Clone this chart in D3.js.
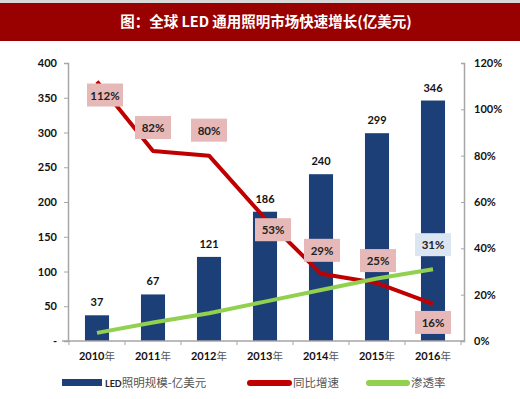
<!DOCTYPE html>
<html>
<head>
<meta charset="utf-8">
<script src="https://cdn.jsdelivr.net/npm/d3@7"></script>
<style>
  body { margin: 0; background: #fff; }
  svg { display: block; }
</style>
</head>
<body>
<div id="chart"></div>
<script>
// 数据
const years = ["2010", "2011", "2012", "2013", "2014", "2015", "2016"];
const marketSize = [37, 67, 121, 186, 240, 299, 346];
const growthRate = [112, 82, 80, 53, 29, 25, 16];
const penetration = [3.5, 8, 12, 17, 22, 27, 31];
const leftTicks = [0, 50, 100, 150, 200, 250, 300, 350, 400];
const rightTicks = [0, 20, 40, 60, 80, 100, 120];

const width = 520, height = 399;
const svg = d3.select("#chart").append("svg")
    .attr("width", width)
    .attr("height", height);

// 标题栏
svg.append("rect").attr("x", 0).attr("y", 0).attr("width", width).attr("height", 3).attr("fill", "#d9d9d9");
svg.append("rect").attr("x", 0).attr("y", 3).attr("width", width).attr("height", 38).attr("fill", "#990000");
svg.append("text")
    .attr("x", 266).attr("y", 27)
    .attr("text-anchor", "middle")
    .attr("font-family", "Noto Sans CJK SC")
    .attr("font-weight", "bold")
    .attr("font-size", 14.5)
    .attr("fill", "#fff")
    .text("图：全球 LED 通用照明市场快速增长(亿美元)");

const x = d3.scaleBand().domain(years).range([69, 461]).paddingInner(0.57).paddingOuter(0.285);
const yL = d3.scaleLinear().domain([0, 400]).range([341, 63]);
const yR = d3.scaleLinear().domain([0, 120]).range([341, 63]);
const cx = d => x(d) + x.bandwidth() / 2;

const numFont = "Lato";

// 柱子
svg.selectAll("rect.bar")
    .data(years)
    .enter()
    .append("rect")
    .attr("class", "bar")
    .attr("x", d => x(d))
    .attr("width", x.bandwidth())
    .attr("y", (d, i) => yL(marketSize[i]))
    .attr("height", (d, i) => yL(0) - yL(marketSize[i]))
    .attr("fill", "#1d3f78");

// 柱子数值
svg.selectAll("text.bar-label")
    .data(years)
    .enter()
    .append("text")
    .attr("x", d => cx(d))
    .attr("y", (d, i) => yL(marketSize[i]) - 9)
    .attr("text-anchor", "middle")
    .attr("font-family", numFont)
    .attr("font-weight", "bold")
    .attr("font-size", 11)
    .attr("fill", "#111")
    .text((d, i) => marketSize[i]);

// 左轴
const leftAxis = svg.append("g")
    .attr("transform", "translate(68,0)")
    .call(d3.axisLeft(yL).tickValues(leftTicks).tickSize(4).tickFormat(d => d === 0 ? "-" : d));
leftAxis.select(".domain").attr("stroke", "#a6a6a6").attr("stroke-width", 1.5);
leftAxis.selectAll(".tick line").attr("stroke", "#a6a6a6");
leftAxis.selectAll(".tick text")
    .attr("x", -11)
    .attr("font-family", numFont).attr("font-weight", "bold").attr("font-size", 11).attr("fill", "#111");

// 右轴
const rightAxis = svg.append("g")
    .attr("transform", "translate(464,0)")
    .call(d3.axisRight(yR).tickValues(rightTicks).tickSize(-3).tickFormat(d => d + "%"));
rightAxis.select(".domain").attr("stroke", "#a6a6a6").attr("stroke-width", 1.5);
rightAxis.selectAll(".tick line").attr("stroke", "#a6a6a6");
rightAxis.selectAll(".tick text")
    .attr("x", 10)
    .attr("font-family", numFont).attr("font-weight", "bold").attr("font-size", 11).attr("fill", "#111");

// X轴
svg.append("line")
    .attr("x1", 62).attr("x2", 464).attr("y1", 341).attr("y2", 341)
    .attr("stroke", "#a6a6a6").attr("stroke-width", 1.5);
svg.selectAll("line.xtick")
    .data(years.concat(["end"]))
    .enter()
    .append("line")
    .attr("x1", (d, i) => 69 + i * x.step())
    .attr("x2", (d, i) => 69 + i * x.step())
    .attr("y1", 341).attr("y2", 345)
    .attr("stroke", "#a6a6a6");

const xLabels = svg.selectAll("text.xlabel")
    .data(years)
    .enter()
    .append("text")
    .attr("x", d => cx(d))
    .attr("y", 360)
    .attr("text-anchor", "middle")
    .attr("font-size", 11);
xLabels.append("tspan").attr("font-family", numFont).attr("font-weight", "bold").attr("fill", "#111").text(d => d);
xLabels.append("tspan").attr("font-family", "Noto Sans CJK SC").attr("fill", "#555").attr("font-size", 10.5).text("年");

// 折线
const line = d3.line().x((d, i) => cx(years[i])).y(d => yR(d));
svg.append("path")
    .datum(growthRate)
    .attr("d", line)
    .attr("fill", "none")
    .attr("stroke", "#c00000")
    .attr("stroke-width", 4)
    .attr("stroke-linejoin", "round");

svg.append("path")
    .datum(penetration)
    .attr("d", line)
    .attr("fill", "none")
    .attr("stroke", "#92d050")
    .attr("stroke-width", 4);

// 数据标签框
function addLabel(px, py, text, fill) {
    const g = svg.append("g").attr("transform", `translate(${px},${py})`);
    g.append("rect")
        .attr("x", -18).attr("y", -12).attr("width", 36).attr("height", 23)
        .attr("fill", fill);
    g.append("text")
        .attr("text-anchor", "middle")
        .attr("y", 4)
        .attr("font-family", numFont)
        .attr("font-weight", "bold")
        .attr("font-size", 11.5)
        .attr("fill", "#222")
        .text(text);
}

const growthOffsets = [[8, 14], [0, -23], [0, -25], [8, 12], [1, -23], [1, -22], [0, 19]];
growthRate.forEach((v, i) => {
    addLabel(cx(years[i]) + growthOffsets[i][0], yR(v) + growthOffsets[i][1], v + "%", "#e6b9b8");
});
addLabel(cx(years[6]), yR(penetration[6]) - 24, penetration[6] + "%", "#dce6f2");

// 图例
const legend = svg.append("g").attr("font-size", 11.5);
legend.append("rect").attr("x", 62).attr("y", 379).attr("width", 40).attr("height", 7).attr("fill", "#1d3f78");
const lt = legend.append("text").attr("x", 105).attr("y", 387);
lt.append("tspan").attr("font-family", numFont).attr("font-weight", "bold").attr("font-size", 9).attr("fill", "#222").text("LED");
lt.append("tspan").attr("font-family", "Noto Sans CJK SC").attr("fill", "#555").text("照明规模-亿美元");

legend.append("line").attr("x1", 250).attr("x2", 289).attr("y1", 383).attr("y2", 383)
    .attr("stroke", "#c00000").attr("stroke-width", 6).attr("stroke-linecap", "round");
legend.append("text").attr("x", 293).attr("y", 387)
    .attr("font-family", "Noto Sans CJK SC").attr("fill", "#555").text("同比增速");

legend.append("line").attr("x1", 369).attr("x2", 407).attr("y1", 383).attr("y2", 383)
    .attr("stroke", "#92d050").attr("stroke-width", 6).attr("stroke-linecap", "round");
legend.append("text").attr("x", 411).attr("y", 387)
    .attr("font-family", "Noto Sans CJK SC").attr("fill", "#555").text("渗透率");
</script>
</body>
</html>
